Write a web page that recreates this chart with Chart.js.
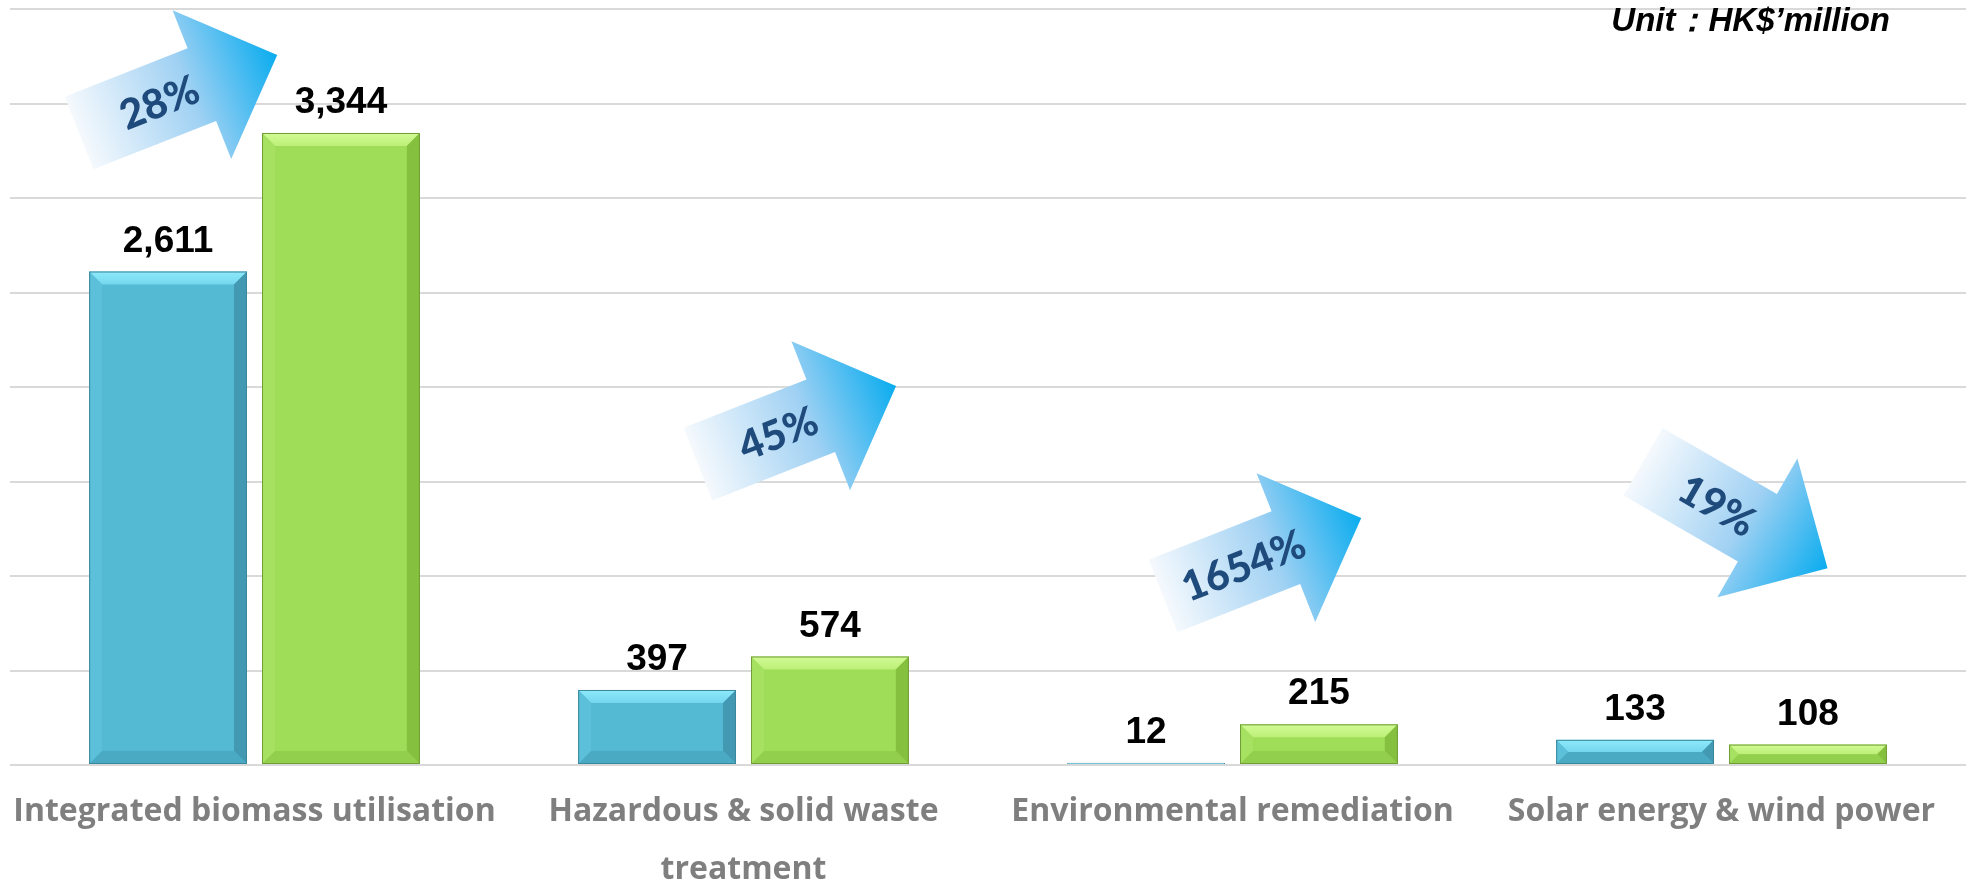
<!DOCTYPE html>
<html>
<head>
<meta charset="utf-8">
<script src="https://cdn.jsdelivr.net/npm/chart.js@4.4.1/dist/chart.umd.min.js"></script>
<style>
  html, body { margin: 0; padding: 0; background: #fff; }
</style>
</head>
<body>
<canvas id="barchart" width="1970" height="880"></canvas>
<script>
// data
const categories = [
  'Integrated biomass utilisation',
  ['Hazardous & solid waste', 'treatment'],
  'Environmental remediation',
  'Solar energy & wind power'
];
const previousYear = [2611, 397, 12, 133];
const currentYear = [3344, 574, 215, 108];
const growthLabels = ['28%', '45%', '1654%', '19%'];
const yMax = 4000;
const yStep = 500;
const unitText = 'Unit\uFF1AHK$\u2019million';

// where the growth arrows sit, as fractions of the plot area (tail middle) + angle
const arrowSpots = [
  { fx: 0.0353, fy: 0.164, angle: -21.5 },
  { fx: 0.3517, fy: 0.602, angle: -21.5 },
  { fx: 0.5895, fy: 0.7765, angle: -21.5 },
  { fx: 0.8349, fy: 0.599, angle: 30 }
];

function poly(ctx, pts, fill) {
  ctx.beginPath();
  ctx.moveTo(pts[0][0], pts[0][1]);
  for (let i = 1; i < pts.length; i++) ctx.lineTo(pts[i][0], pts[i][1]);
  ctx.closePath();
  ctx.fillStyle = fill;
  ctx.fill();
}

// bevelled look of the bars
const bevelPlugin = {
  id: 'bevel',
  afterDatasetsDraw(chart) {
    const ctx = chart.ctx;
    chart.data.datasets.forEach((ds, i) => {
      const meta = chart.getDatasetMeta(i);
      const c = ds.bevel;
      meta.data.forEach(bar => {
        const l = bar.x - bar.width / 2, r = bar.x + bar.width / 2;
        const t = bar.y, b = bar.base;
        const s = Math.min(13, (b - t) / 2, bar.width / 2);
        if (s < 1) return;
        ctx.save();
        const g = ctx.createLinearGradient(0, t, 0, t + s);
        g.addColorStop(0, c.topLight);
        g.addColorStop(1, c.top);
        poly(ctx, [[l, t], [r, t], [r - s, t + s], [l + s, t + s]], g);
        poly(ctx, [[l, t], [l + s, t + s], [l + s, b - s], [l, b]], c.left);
        poly(ctx, [[r, t], [r, b], [r - s, b - s], [r - s, t + s]], c.right);
        poly(ctx, [[l, b], [r, b], [r - s, b - s], [l + s, b - s]], c.bottom);
        ctx.strokeStyle = c.edge;
        ctx.lineWidth = 1;
        ctx.strokeRect(l + 0.5, t + 0.5, r - l - 1, b - t - 1);
        ctx.restore();
      });
    });
  }
};

const valueLabels = {
  id: 'valueLabels',
  afterDatasetsDraw(chart) {
    const ctx = chart.ctx;
    ctx.save();
    ctx.font = 'bold 37px "Liberation Sans", Arial, sans-serif';
    ctx.fillStyle = '#000000';
    ctx.textAlign = 'center';
    ctx.textBaseline = 'alphabetic';
    chart.data.datasets.forEach((ds, i) => {
      chart.getDatasetMeta(i).data.forEach((bar, j) => {
        ctx.fillText(ds.data[j].toLocaleString('en-US'), bar.x, bar.y - 20);
      });
    });
    ctx.restore();
  }
};

const growthArrows = {
  id: 'growthArrows',
  afterDatasetsDraw(chart) {
    const ctx = chart.ctx;
    const a = chart.chartArea;
    arrowSpots.forEach((p, i) => {
      const x0 = a.left + p.fx * (a.right - a.left);
      const y0 = a.top + p.fy * (a.bottom - a.top);
      ctx.save();
      ctx.translate(x0, y0);
      ctx.rotate(p.angle * Math.PI / 180);
      const g = ctx.createLinearGradient(0, 0, 213, 0);
      g.addColorStop(0, '#f5f9fd');
      g.addColorStop(0.55, '#a0d1f3');
      g.addColorStop(1, '#0aacef');
      poly(ctx, [[0, -39], [132, -39], [132, -80], [213, 0], [132, 80], [132, 39], [0, 39]], g);
      ctx.font = '900 41px Lato, "Open Sans", sans-serif';
      ctx.fillStyle = '#1f4a7c';
      ctx.textAlign = 'center';
      ctx.textBaseline = 'middle';
      ctx.fillText(growthLabels[i], 86, 2);
      ctx.restore();
    });
  }
};

const unitLabel = {
  id: 'unitLabel',
  afterDraw(chart) {
    const ctx = chart.ctx;
    ctx.save();
    ctx.font = 'italic bold 33px "Liberation Sans", Arial, sans-serif';
    ctx.fillStyle = '#000000';
    ctx.textAlign = 'right';
    ctx.textBaseline = 'alphabetic';
    ctx.fillText(unitText, 1890, 31);
    ctx.restore();
  }
};

const ctx = document.getElementById('barchart');

new Chart(ctx, {
  type: 'bar',
  data: {
    labels: categories,
    datasets: [
      {
        label: 'Previous year',
        data: previousYear,
        backgroundColor: '#54b9d3',
        borderColor: '#3a889e',
        borderWidth: 1,
        bevel: { topLight: '#8eeafb', top: '#74d6ee', left: '#5cc0da', right: '#4399b1', bottom: '#4aa9c3', edge: '#3a889e' }
      },
      {
        label: 'Current year',
        data: currentYear,
        backgroundColor: '#9fdc58',
        borderColor: '#6f9e35',
        borderWidth: 1,
        bevel: { topLight: '#d2fb95', top: '#bcef78', left: '#a7e162', right: '#86c03f', bottom: '#92cf4c', edge: '#6f9e35' }
      }
    ]
  },
  options: {
    responsive: false,
    devicePixelRatio: 1,
    animation: false,
    layout: { padding: { left: 10, right: 4, top: 9, bottom: 0 } },
    datasets: {
      bar: { barPercentage: 0.913, categoryPercentage: 0.707 }
    },
    plugins: {
      legend: { display: false },
      tooltip: { enabled: false }
    },
    scales: {
      x: {
        grid: { display: false },
        border: { display: false },
        ticks: {
          color: '#7f7f7f',
          font: { family: '"Open Sans", sans-serif', size: 32, weight: 'bold', lineHeight: 1.8 },
          padding: 10,
          maxRotation: 0,
          autoSkip: false
        },
        afterFit: scale => { scale.height = 115; }
      },
      y: {
        min: 0,
        max: yMax,
        ticks: { display: false, stepSize: yStep },
        border: { display: false },
        grid: { color: '#d9d9d9', lineWidth: 2, drawTicks: false }
      }
    }
  },
  plugins: [bevelPlugin, growthArrows, valueLabels, unitLabel]
});
</script>
</body>
</html>
